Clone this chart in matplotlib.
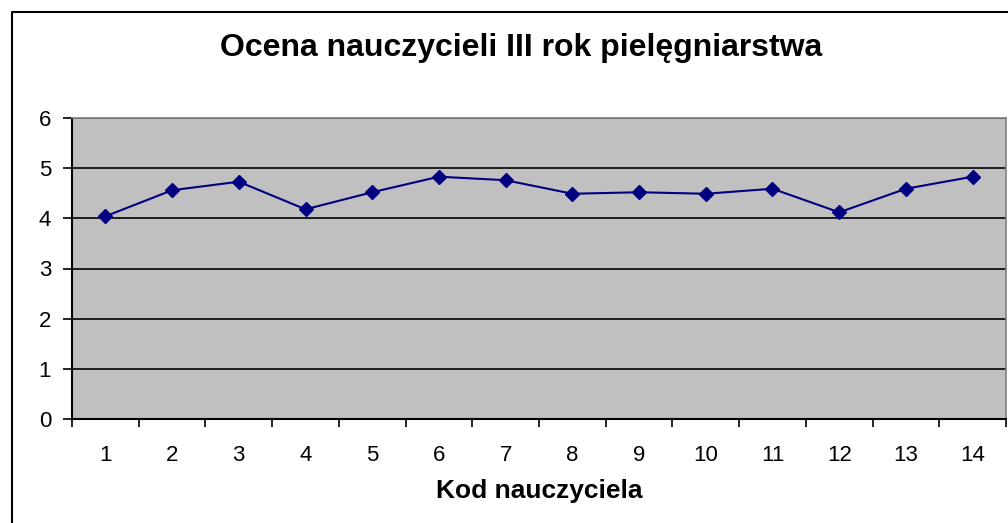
import matplotlib.pyplot as plt
from matplotlib.lines import Line2D

plt.rcParams['font.family'] = ['Liberation Sans', 'DejaVu Sans']

kody = list(range(1, 15))
oceny = [4.04, 4.56, 4.73, 4.18, 4.52, 4.83, 4.76, 4.49, 4.52, 4.49, 4.59, 4.12, 4.59, 4.83]

W, H = 1008, 523
fig = plt.figure(figsize=(W / 100, H / 100), dpi=100)

# ramka wykresu (prawa i dolna krawędź poza obrazkiem)
fig.add_artist(Line2D([12 / W, 12 / W, 1.0], [0.0, 1 - 12 / H, 1 - 12 / H],
                      transform=fig.transFigure, color='black', lw=1.5))

ax = fig.add_axes([72 / W, (H - 419) / H, (1006 - 72) / W, (419 - 118) / H])
ax.set_facecolor('#c0c0c0')

ax.plot(kody, oceny, color='#000080', lw=1.5, marker='D', markersize=7,
        markerfacecolor='#000080', markeredgecolor='#000080', zorder=3)

ax.set_xlim(0.5, 14.5)
ax.set_ylim(0, 6)
ax.set_yticks(range(0, 7))
ax.yaxis.grid(True, color='black', lw=1.2)
ax.set_axisbelow(True)

# podziałki między kategoriami
ax.set_xticks([k + 0.5 for k in range(0, 15)], minor=False)
ax.set_xticklabels([])
ax.set_xticks(kody, minor=True)
ax.set_xticklabels([str(k) for k in kody], minor=True)
ax.tick_params(axis='x', which='major', direction='out', length=5.5, width=1.2, color='black')
ax.tick_params(axis='x', which='minor', length=0, pad=18.5, labelsize=16)
ax.tick_params(axis='y', direction='out', length=6.5, width=1.2, pad=8.5, labelsize=16)

for s in ['left', 'bottom']:
    ax.spines[s].set_color('black')
    ax.spines[s].set_linewidth(1.5)
for s in ['top', 'right']:
    ax.spines[s].set_color('#808080')
    ax.spines[s].set_linewidth(1.2)

fig.text(521 / W, 1 - 56 / H, 'Ocena nauczycieli III rok pielęgniarstwa',
         ha='center', va='baseline', fontsize=23, fontweight='bold')
fig.text(539 / W, 1 - 498 / H, 'Kod nauczyciela',
         ha='center', va='baseline', fontsize=19, fontweight='bold')

fig.savefig('out.png', dpi=100)
